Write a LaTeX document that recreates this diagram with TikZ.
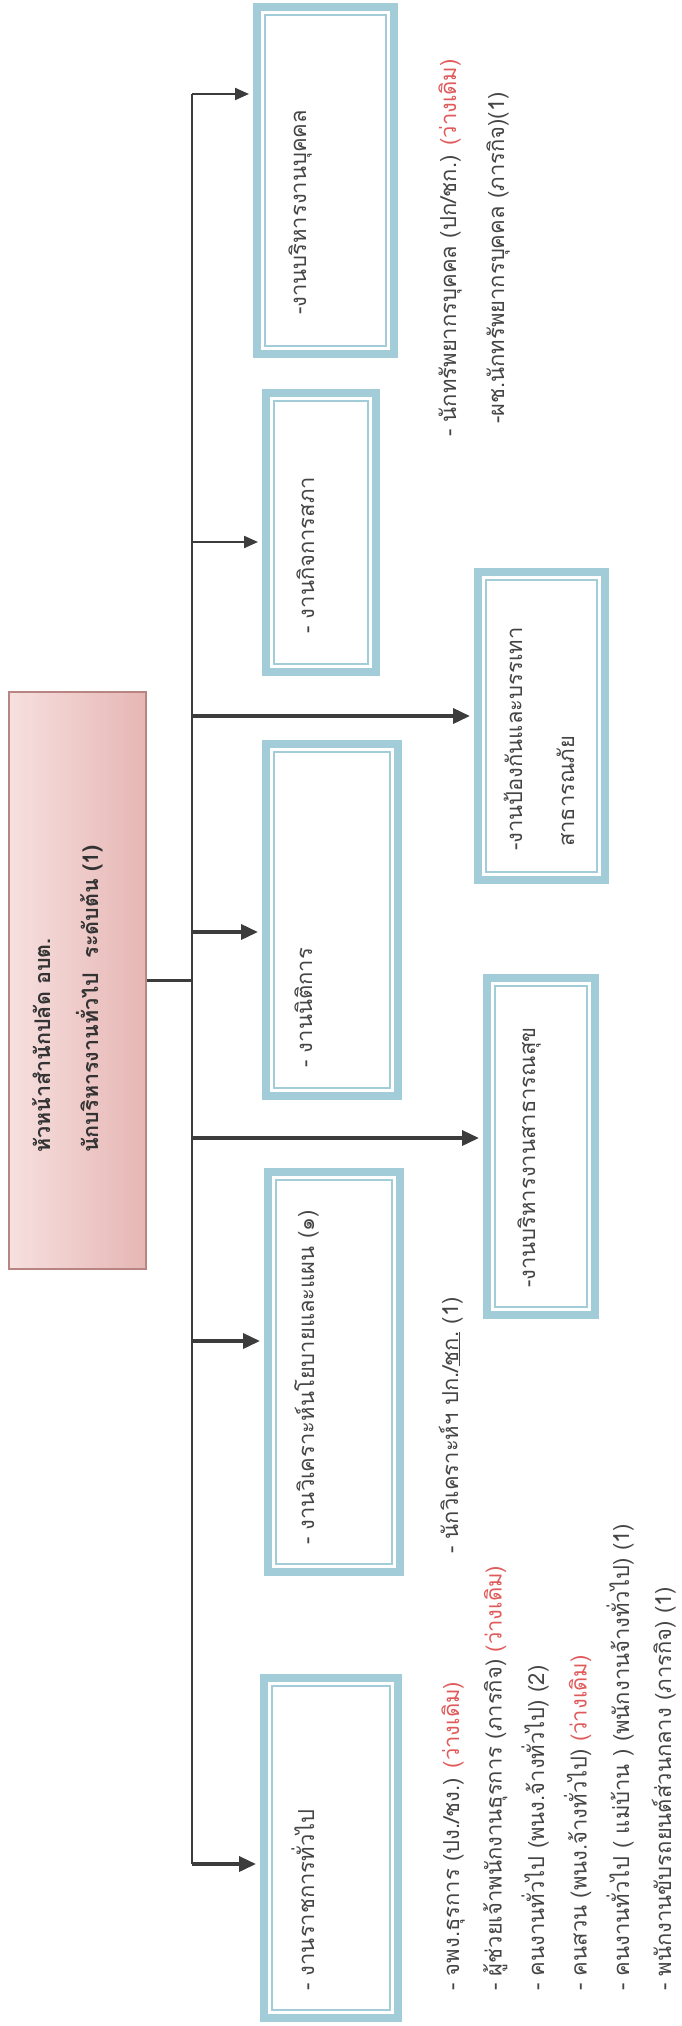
\documentclass[tikz,border=0pt]{standalone}
\usepackage{fontspec}
\newfontfamily\thai[Script=Thai]{Loma}
\usetikzlibrary{arrows.meta}
\definecolor{boxblue}{HTML}{A2CCD8}
\definecolor{ln}{HTML}{3C3C3C}
\definecolor{txt}{HTML}{454545}
\definecolor{vac}{HTML}{E05A5A}
\definecolor{pinkL}{HTML}{F6E0DF}
\definecolor{pinkD}{HTML}{E6B6B4}
\definecolor{pinkB}{HTML}{B98583}
\begin{document}
\begin{tikzpicture}[x=1pt,y=-1pt,
  bluebox/.style={draw=boxblue, line width=8pt, fill=white, inner sep=0pt,
    path picture={\draw[boxblue,line width=1.6pt]
      ([shift={(8pt,-8pt)}]path picture bounding box.north west) rectangle
      ([shift={(-8pt,8pt)}]path picture bounding box.south east);}},
  pinkbox/.style={draw=pinkB, line width=1.5pt, inner sep=0pt,
    left color=pinkL, right color=pinkD},
  lbl/.style={rotate=90, anchor=base west, inner sep=0pt,
    font=\thai\fontsize{22}{26}\selectfont, text=txt},
  head/.style={lbl, font=\thai\bfseries\fontsize{21.5}{25}\selectfont, text=black!80},
  bus/.style={draw=ln, line width=2.6pt},
  thinarr/.style={draw=ln, line width=2.2pt, shorten >=4pt,
    -{Triangle[length=14pt,width=12pt]}},
  thickarr/.style={draw=ln, line width=3.6pt, shorten >=4pt,
    -{Triangle[length=17pt,width=15pt]}}
]
\useasboundingbox (0,0) rectangle (682,2026);

% head box
\node[pinkbox, minimum width=137pt, minimum height=577pt] (P) at (77.5,980.5) {};
\node[head] (p1) at (50,1153) {หัวหน้าสำนักปลัด อบต.};
\node[head] (p2) at (98,1153) {นักบริหารงานทั่วไป\ \ ระดับต้น (1)};

% first tier boxes
\node[bluebox, minimum width=137pt, minimum height=347pt] (A) at (325.5,180.5) {};
\node[bluebox, minimum width=110pt, minimum height=279pt] (B) at (321,532.5) {};
\node[bluebox, minimum width=132pt, minimum height=352pt] (C) at (332,920) {};
\node[bluebox, minimum width=132pt, minimum height=400pt] (D) at (334,1372) {};
\node[bluebox, minimum width=134pt, minimum height=340pt] (G) at (331,1848) {};
% second tier boxes
\node[bluebox, minimum width=127pt, minimum height=308pt] (E) at (541.5,726) {};
\node[bluebox, minimum width=108pt, minimum height=337pt] (F) at (541,1146.5) {};

% box texts
\node[lbl] (tA) at (306,315) {-งานบริหารงานบุคคล};
\node[lbl] (tB) at (314,634) {- งานกิจการสภา};
\node[lbl] (tC) at (312,1068) {- งานนิติการ};
\node[lbl] (tD) at (314,1545) {- งานวิเคราะห์นโยบายและแผน (๑)};
\node[lbl] (tG) at (314,1991) {- งานราชการทั่วไป};
\node[lbl] (tE1) at (522,851) {-งานป้องกันและบรรเทา};
\node[lbl] (tE2) at (574,847) {สาธารณภัย};
\node[lbl] (tF) at (535,1288) {-งานบริหารงานสาธารณสุข};

% staff lists
\node[lbl] (sA1) at (456,437) {- นักทรัพยากรบุคคล (ปก/ชก.) {\color{vac}(ว่างเดิม)}};
\node[lbl] (sA2) at (504,424) {-ผช.นักทรัพยากรบุคคล (ภารกิจ)(1)};
\node[lbl] (sD1) at (458,1554) {- นักวิเคราะห์ฯ ปก./\underline{ชก.} (1)};
\node[lbl] (sG1) at (459,1991) {- จพง.ธุรการ (ปง./ชง.) {\color{vac}(ว่างเดิม)}};
\node[lbl] (sG2) at (501.5,1991) {- ผู้ช่วยเจ้าพนักงานธุรการ (ภารกิจ) {\color{vac}(ว่างเดิม)}};
\node[lbl] (sG3) at (544,1991) {- คนงานทั่วไป (พนง.จ้างทั่วไป) (2)};
\node[lbl] (sG4) at (586.5,1991) {- คนสวน (พนง.จ้างทั่วไป) {\color{vac}(ว่างเดิม)}};
\node[lbl] (sG5) at (629,1991) {- คนงานทั่วไป ( แม่บ้าน ) (พนักงานจ้างทั่วไป) (1)};
\node[lbl] (sG6) at (671,1991) {- พนักงานขับรถยนต์ส่วนกลาง (ภารกิจ) (1)};

% connectors
\coordinate (busTop) at (192,94);
\coordinate (busBot) at (192,1864);
\coordinate (jB) at (192,542);
\coordinate (jE) at (192,716);
\coordinate (jC) at (192,932);
\coordinate (jF) at (192,1138);
\coordinate (jD) at (192,1341);
\draw[bus] (busTop) -- (busBot);
\draw[bus] (P.east) -- (P.east -| busTop);
\draw[thinarr] (busTop) -- (busTop -| A.west);
\draw[thinarr] (jB) -- (jB -| B.west);
\draw[thickarr] (jE) -- (jE -| E.west);
\draw[thickarr] (jC) -- (jC -| C.west);
\draw[thickarr] (jF) -- (jF -| F.west);
\draw[thickarr] (jD) -- (jD -| D.west);
\draw[thickarr] (busBot) -- (busBot -| G.west);
\end{tikzpicture}
\end{document}
